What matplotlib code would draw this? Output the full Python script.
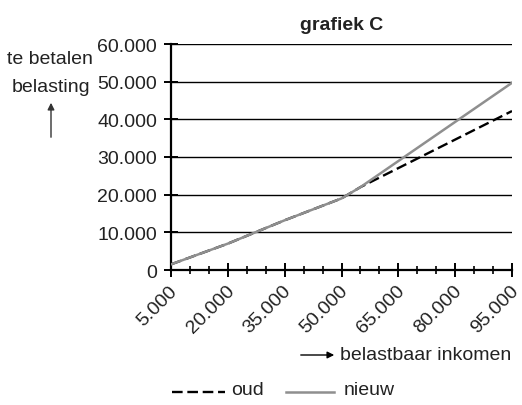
import matplotlib
matplotlib.use("Agg")
import matplotlib.pyplot as plt
import matplotlib.transforms as mtransforms
from matplotlib.lines import Line2D
from matplotlib.patches import FancyArrowPatch
from matplotlib.ticker import FixedLocator, MultipleLocator

plt.rcParams["font.family"] = ["Liberation Sans", "DejaVu Sans"]

# Data
income_oud = [5000, 20000, 35000, 50000, 55000, 95000]
tax_oud = [1500, 7000, 13200, 19000, 22000, 42200]
income_nieuw = [5000, 20000, 35000, 50000, 55000, 95000]
tax_nieuw = [1500, 7000, 13200, 19000, 22000, 49700]

x_ticks = [5000, 20000, 35000, 50000, 65000, 80000, 95000]
x_labels = ["5.000", "20.000", "35.000", "50.000", "65.000", "80.000", "95.000"]
y_ticks = [0, 10000, 20000, 30000, 40000, 50000, 60000]
y_labels = ["0", "10.000", "20.000", "30.000", "40.000", "50.000", "60.000"]

GREY = "#8f8f8f"
TEXT = "#222222"
FS = 14
DASH = (0, (4.5, 2))

W, H = 522, 406
fig = plt.figure(figsize=(W / 100, H / 100), dpi=100)
ax = fig.add_axes([171 / W, 1 - 271 / H, (512 - 171) / W, (271 - 45) / H])

# gridlines
for yv in y_ticks[1:]:
    ax.axhline(yv, color="black", lw=1.0, zorder=1)

ax.plot(income_oud, tax_oud, color="black", lw=1.7, ls=DASH, zorder=3)
ax.plot(income_nieuw, tax_nieuw, color=GREY, lw=1.8, zorder=4)

ax.set_xlim(5000, 95000)
ax.set_ylim(0, 60000)
for s in ["top", "right"]:
    ax.spines[s].set_visible(False)
ax.spines["left"].set_linewidth(1.6)
ax.spines["bottom"].set_linewidth(1.6)

ax.yaxis.set_major_locator(FixedLocator(y_ticks))
ax.set_yticklabels(y_labels, fontsize=FS, color=TEXT)
ax.xaxis.set_major_locator(FixedLocator(x_ticks))
ax.xaxis.set_minor_locator(MultipleLocator(5000))
ax.set_xticklabels(x_labels, fontsize=FS, color=TEXT, rotation=45,
                   ha="right", va="center", rotation_mode="anchor")
ax.tick_params(axis="y", direction="inout", length=10, width=1.4, pad=5)
ax.tick_params(axis="x", which="major", direction="inout", length=10, width=1.4, pad=8)
ax.tick_params(axis="x", which="minor", direction="inout", length=6, width=1.2)

offset = mtransforms.ScaledTranslation(4 / 100, 0, fig.dpi_scale_trans)
for lbl in ax.get_xticklabels():
    lbl.set_transform(lbl.get_transform() + offset)

# title
fig.text(342 / W, 1 - 26 / H, "grafiek C", fontsize=14, fontweight="bold",
         ha="center", va="center", color=TEXT)

# y label with arrow
fig.text(50 / W, 1 - 60 / H, "te betalen", fontsize=FS, ha="center", va="center", color=TEXT)
fig.text(51 / W, 1 - 88 / H, "belasting", fontsize=FS, ha="center", va="center", color=TEXT)
fig.add_artist(FancyArrowPatch(
    (51 / W, 1 - 141 / H), (51 / W, 1 - 101 / H), transform=fig.transFigure,
    arrowstyle="-|>", mutation_scale=10, color="#333333", lw=1))

# x label with arrow
fig.add_artist(FancyArrowPatch(
    (298 / W, 1 - 356 / H), (337 / W, 1 - 356 / H), transform=fig.transFigure,
    arrowstyle="-|>", mutation_scale=10, color="black", lw=1))
fig.text(340 / W, 1 - 356 / H, "belastbaar inkomen", fontsize=FS, ha="left",
         va="center", color=TEXT)

# legend
fig.add_artist(Line2D([172 / W, 225 / W], [1 - 393 / H, 1 - 393 / H],
                      transform=fig.transFigure, color="black", lw=1.7, ls=DASH))
fig.text(231 / W, 1 - 391 / H, "oud", fontsize=FS, ha="left", va="center", color=TEXT)
fig.add_artist(Line2D([286 / W, 334 / W], [1 - 393 / H, 1 - 393 / H],
                      transform=fig.transFigure, color=GREY, lw=1.8))
fig.text(344 / W, 1 - 391 / H, "nieuw", fontsize=FS, ha="left", va="center", color=TEXT)

fig.savefig("out.png", dpi=100)
